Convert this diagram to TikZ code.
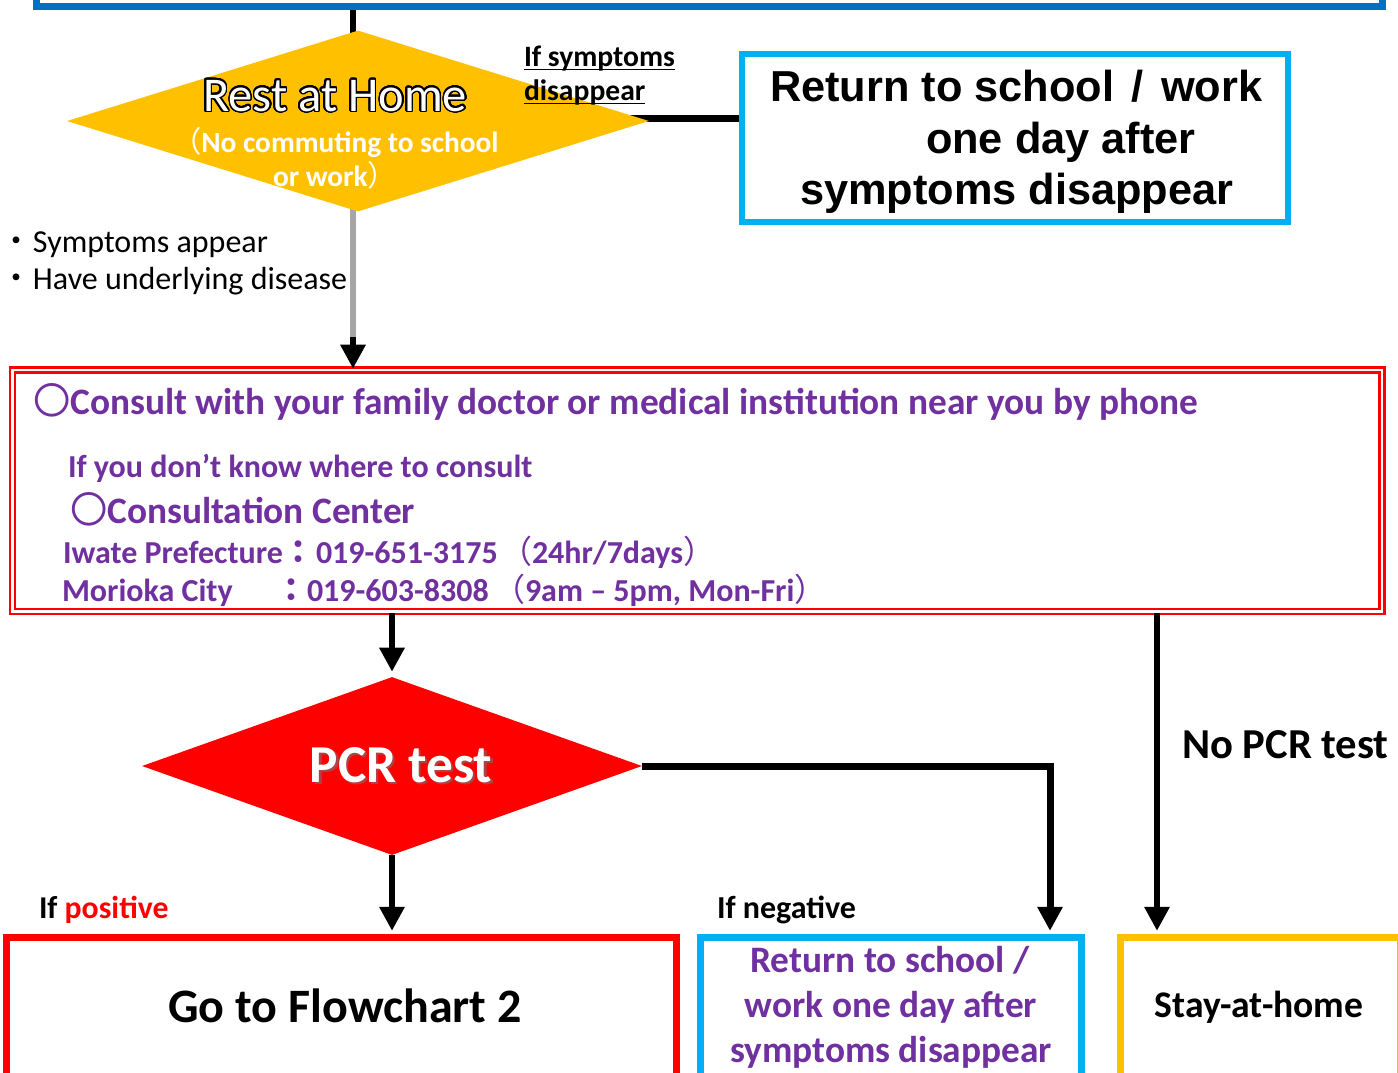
\documentclass[tikz,border=0pt]{standalone}
\usepackage{fontspec}
\setmainfont{Carlito}
\newfontfamily\cjk{Noto Sans CJK JP}
\newfontfamily\lsans{Liberation Sans}
\usepackage{contour}
\contourlength{1.1pt}
\contournumber{32}
\usetikzlibrary{arrows.meta,shapes.geometric,calc}
\definecolor{topblue}{HTML}{0070C0}
\definecolor{cyanb}{HTML}{00B0F0}
\definecolor{yellowc}{HTML}{FFC000}
\definecolor{purplec}{HTML}{7030A0}
\definecolor{redc}{HTML}{FF0000}
\definecolor{grayl}{HTML}{A6A6A6}
\newcommand\fsz[1]{\fontsize{#1pt}{#1pt}\selectfont}
\pgfdeclarelayer{bg}
\pgfsetlayers{bg,main}
\begin{document}
\begin{tikzpicture}[x=0.75pt,y=-0.75pt,
  conn/.style={line width=4.5pt, black},
  arr/.style={-{Triangle[width=18pt,length=18pt]}},
  lbl/.style={inner sep=0pt, outer sep=0pt},
  purp/.style={lbl, text=purplec, font=\bfseries},
  boxn/.style={rectangle, inner sep=0pt, fill=white}]
\useasboundingbox (0,0) rectangle (1398,1072);
\clip (0,0) rectangle (1398,1072);

% ---------- shapes ----------
\node[boxn, draw=topblue, line width=5.25pt, minimum width=1009.5pt, minimum height=154.9pt] (topbox) at (709,-96.75) {};
\node[diamond, fill=yellowc, inner sep=0pt, minimum width=436.5pt, minimum height=135.75pt] (rest) at (358,121) {};
\node[boxn, draw=cyanb, line width=4.5pt, minimum width=409.5pt, minimum height=126pt] (ret1) at (1015,138) {};
\node[boxn, draw=redc, line width=2pt, double=white, double distance=1.9pt, minimum width=1027.1pt, minimum height=181.1pt] (consult) at (697.25,490.75) {};
\node[diamond, fill=redc, inner sep=0pt, minimum width=375pt, minimum height=133.5pt] (pcr) at (392,766) {};
\node[boxn, draw=redc, line width=5.25pt, minimum width=502.5pt, minimum height=137.25pt] (goto) at (341,1028.5) {};
\node[boxn, draw=cyanb, line width=5.25pt, minimum width=285.75pt, minimum height=137.25pt] (neg) at (890.5,1028.5) {};
\node[boxn, draw=yellowc, line width=5.25pt, minimum width=210pt, minimum height=137.25pt] (stay) at (1260,1028.5) {};

% ---------- connectors ----------
\coordinate (tx) at (353,0);
\coordinate (gx) at (353,338);
\coordinate (nx) at (1050,0);
\coordinate (sx) at (1157,0);
\begin{pgfonlayer}{bg}
\draw[conn] (topbox.south -| tx) -- ([yshift=-6pt]rest.north -| tx);
\draw[line width=5.25pt] ([xshift=-20pt,yshift=2.25pt]rest.east) -- ([yshift=2.25pt]rest.east -| ret1.west);
\draw[line width=4.5pt, grayl] ([yshift=6pt]rest.south -| gx) -- (gx);
\end{pgfonlayer}
\draw[conn,arr] ([yshift=1pt]gx) -- (consult.north -| gx);
\draw[conn,arr,shorten >=3.75pt] (consult.south -| pcr.north) -- (pcr.north);
\draw[conn,arr,shorten >=2pt] (pcr.south) -- (goto.north -| pcr.south);
\draw[line width=5.25pt,arr,shorten >=2pt] (pcr.east) -| (neg.north -| nx);
\draw[conn,arr,shorten >=2pt] (consult.south -| sx) -- (stay.north -| sx);

% ---------- texts ----------
\node[lbl, anchor=base west, text=white] (resttxt) at (203,111) {\fsz{36.4}\contour{black}{Rest at Home}};
\node[lbl, anchor=base west, text=white, font=\bfseries] (nc1) at (172,152) {\fsz{22}{\cjk\mdseries （}No commuting to school};
\node[lbl, anchor=base west, text=white, font=\bfseries] (nc2) at (273,186) {\fsz{22}or work{\cjk\mdseries ）}};

\node[lbl, anchor=base west, font=\bfseries] (sd1) at (524,66) {\fsz{22.2}If symptoms};
\node[lbl, anchor=base west, font=\bfseries] (sd2) at (524,100) {\fsz{22.2}disappear};
\draw[line width=1.4pt] ([yshift=-2.6pt]sd1.base west) -- ([yshift=-2.6pt]sd1.base east);
\draw[line width=1.4pt] ([yshift=-2.6pt]sd2.base west) -- ([yshift=-2.6pt]sd2.base east);

\node[lbl, anchor=base west, font=\lsans\bfseries] (r1) at (770,101) {\fsz{32.5}Return to school\hspace{4pt} / \hspace{4pt}work};
\node[lbl, anchor=base west, font=\lsans\bfseries] (r2) at (926,153) {\fsz{32.5}one day after};
\node[lbl, anchor=base west, font=\lsans\bfseries] (r3) at (800,204) {\fsz{32.5}symptoms disappear};

\node[lbl, anchor=base west] (sy1) at (1,252) {\fsz{24}{\cjk ・}Symptoms appear};
\node[lbl, anchor=base west] (sy2) at (1,289) {\fsz{24}{\cjk ・}Have underlying disease};

\node[purp, anchor=base west] (c1) at (33,414) {\fsz{28}{\cjk\mdseries 〇}Consult with your family doctor or medical institution near you by phone};
\node[purp, anchor=base west] (c2) at (68,477) {\fsz{24}If you don’t know where to consult};
\node[purp, anchor=base west] (c3) at (70,523) {\fsz{28}{\cjk\mdseries 〇}Consultation Center};
\node[purp, anchor=base west] (c4a) at (63,563) {\fsz{24}Iwate Prefecture};
\node[purp, anchor=base west] (c4b) at (282,563) {\fsz{24}{\cjk ：}};
\node[purp, anchor=base west] (c4c) at (316,563) {\fsz{24}019-651-3175};
\node[purp, anchor=base west] (c4d) at (500,563) {\fsz{24}{\cjk\mdseries （}24hr/7days{\cjk\mdseries ）}};
\node[purp, anchor=base west] (c5a) at (62,601) {\fsz{24}Morioka City};
\node[purp, anchor=base west] (c5b) at (275,601) {\fsz{24}{\cjk ：}};
\node[purp, anchor=base west] (c5c) at (307,601) {\fsz{24}019-603-8308};
\node[purp, anchor=base west] (c5d) at (493,601) {\fsz{24}{\cjk\mdseries （}9am – 5pm, Mon-Fri{\cjk\mdseries ）}};

\node[lbl, anchor=base, text=black!55, opacity=0.6, font=\bfseries] (pcrsh) at (403.5,784.5) {\fsz{40}PCR test};
\node[lbl, anchor=base, text=white, font=\bfseries] (pcrtxt) at (401,782) {\fsz{40}PCR test};

\node[lbl, anchor=base west, font=\bfseries] (nopcr) at (1182,758) {\fsz{32}No PCR test};
\node[lbl, anchor=base west, font=\bfseries] (ifpos) at (39,918) {\fsz{23.8}If \textcolor{redc}{positive}};
\node[lbl, anchor=base west, font=\bfseries] (ifneg) at (717,918) {\fsz{24}If negative};

\node[lbl, anchor=base, font=\bfseries] (gototxt) at (345,1022) {\fsz{36}Go to Flowchart 2};
\node[purp, anchor=base] (n1) at (890,972) {\fsz{28}Return to school /};
\node[purp, anchor=base] (n2) at (891,1017) {\fsz{28}work one day after};
\node[purp, anchor=base] (n3) at (891,1062) {\fsz{28}symptoms disappear};
\node[lbl, anchor=base, font=\bfseries] (staytxt) at (1259,1017) {\fsz{28.2}Stay-at-home};
\end{tikzpicture}
\end{document}
